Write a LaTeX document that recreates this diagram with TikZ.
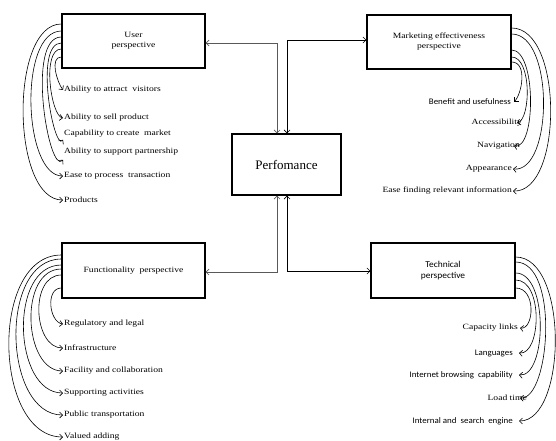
\documentclass[tikz,border=0pt]{standalone}
\usepackage{fontspec}
\setmainfont{Liberation Serif}
\newfontfamily\itemserif[FakeStretch=1.2]{Liberation Serif}
\newfontfamily\itemsans[FakeStretch=1.05]{Carlito}
\usetikzlibrary{arrows.meta,calc}
\begin{document}
\begin{tikzpicture}[x=1pt,y=-1pt,
  >={Straight Barb[length=3pt,width=6pt]},
  box/.style={draw,line width=1.3pt,inner sep=0pt,align=center,font=\itemserif\fontsize{8}{10}\selectfont},
  itm/.style={inner sep=1pt,font=\itemserif\fontsize{8}{10}\selectfont},
  itms/.style={inner sep=1pt,font=\itemsans\fontsize{8.5}{10}\selectfont},
  link/.style={<->,line width=0.6pt},
  cv/.style={->,line width=0.6pt}]
\useasboundingbox (0,0) rectangle (556,441);
% boxes
\node[box,minimum width=143pt,minimum height=54pt] (user) at (133.5,41) {User\\perspective};
\node[box,minimum width=144pt,minimum height=54pt] (mark) at (439,42) {Marketing effectiveness\\perspective};
\node[box,minimum width=109pt,minimum height=61pt,font=\fontsize{13}{15}\selectfont] (perf) at (286.5,164.5) {Perfomance};
\node[box,minimum width=143pt,minimum height=55pt] (func) at (133.5,270.5) {Functionality\ \ perspective};
\node[box,minimum width=144pt,minimum height=55pt,font=\itemsans\fontsize{9}{11}\selectfont] (tech) at (443,270.5) {Technical\\perspective};
% main connectors
\draw[link,gray!70!black] ([yshift=-2pt]user.east) -| ([xshift=-9.5pt]perf.north);
\draw[link] ([yshift=2pt]mark.west) -| ([xshift=0.5pt]perf.north);
\draw[link,gray!70!black] ([yshift=-1.5pt]func.east) -| ([xshift=-9.5pt]perf.south);
\draw[link] ([yshift=-0.5pt]tech.west) -| ([xshift=0.5pt]perf.south);
% user items
\node[itm,anchor=west] (u1) at (63,90) {Ability to attract\ \ visitors};
\node[itm,anchor=west] (u2) at (63,118) {Ability to sell product};
\node[itm,anchor=west] (u3) at (63,134) {Capability to create\ \ market};
\node[itm,anchor=west] (u4) at (63,152) {Ability to support partnership};
\node[itm,anchor=west] (u5) at (63,176) {Ease to process\ \ transaction};
\node[itm,anchor=west] (u6) at (63,200) {Products};
\draw[cv] ([yshift=17pt]user.west) .. controls +(-52,0) and +(-52,0) .. (u6.west);
\draw[cv] ([yshift=10pt]user.west) .. controls +(-43,0) and +(-40,0) .. (u5.west);
\draw[cv] ([yshift=4pt]user.west) .. controls +(-36,0) and +(-14,16) .. ([yshift=-3pt]u4.south west);
\draw[cv] ([yshift=-2pt]user.west) .. controls +(-28,0) and +(-9,12) .. ([yshift=-1pt]u3.south west);
\draw[cv] ([yshift=-8pt]user.west) .. controls +(-20,0) and +(-12,-2) .. (u2.west);
\draw[cv] ([yshift=-16pt]user.west) .. controls +(-12,0) and +(-6,-8) .. (u1.west);
% marketing items
\node[itms,anchor=east] (m1) at (512,102) {Benefit and usefulness};
\node[itm,anchor=east] (m2) at (523,123) {Accessibility};
\node[itm,anchor=east] (m3) at (521,146) {Navigation};
\node[itm,anchor=east] (m4) at (513,169) {Appearance};
\node[itm,anchor=east] (m5) at (513,191) {Ease finding relevant information};
\draw[cv] ([yshift=14pt]mark.east) .. controls +(52,0) and +(50,2) .. (m5.east);
\draw[cv] ([yshift=8pt]mark.east) .. controls +(43,0) and +(40,4) .. (m4.east);
\draw[cv] ([yshift=-8pt]mark.east) .. controls +(25,0) and +(22,4) .. ([xshift=-7pt]m3.east);
\draw[cv] ([yshift=-15pt]mark.east) .. controls +(20,0) and +(14,-4) .. ([xshift=-6pt]m2.east);
\draw[cv] ([yshift=-20pt]mark.east) .. controls +(16,0) and +(8,-8) .. ([xshift=2pt]m1.east);
% technical items
\node[itm,anchor=east] (t1) at (519,328) {Capacity links};
\node[itms,anchor=east] (t2) at (514,353) {Languages};
\node[itms,anchor=east] (t3) at (514,375) {Internet browsing\ \ capability};
\node[itm,anchor=east] (t4) at (528,398) {Load time};
\node[itms,anchor=east] (t5) at (514,421) {Internal and\ \ search\ \ engine};
\draw[cv] ([yshift=13.5pt]tech.east) .. controls +(53,0) and +(48,0) .. ([xshift=5pt]t5.east);
\draw[cv] ([yshift=8.5pt]tech.east) .. controls +(44,0) and +(30,2) .. ([xshift=-8pt]t4.east);
\draw[cv] ([yshift=-2.5pt]tech.east) .. controls +(33,0) and +(28,2) .. ([xshift=5pt]t3.east);
\draw[cv] ([yshift=-9.5pt]tech.east) .. controls +(28,0) and +(22,2) .. ([xshift=5pt]t2.east);
\draw[cv] ([yshift=-17.5pt]tech.east) .. controls +(21,0) and +(14,2) .. ([xshift=1pt]t1.east);
% functionality items
\node[itm,anchor=west] (f1) at (63,324) {Regulatory and legal};
\node[itm,anchor=west] (f2) at (63,348) {Infrastructure};
\node[itm,anchor=west] (f3) at (63,371) {Facility and collaboration};
\node[itm,anchor=west] (f4) at (63,393) {Supporting activities};
\node[itm,anchor=west] (f5) at (63,415) {Public transportation};
\node[itm,anchor=west] (f6) at (63,437) {Valued adding};
\draw[cv] ([yshift=15.5pt]func.west) .. controls +(-72,0) and +(-70,0) .. (f6.west);
\draw[cv] ([yshift=11.5pt]func.west) .. controls +(-63,0) and +(-60,0) .. (f5.west);
\draw[cv] ([yshift=5.5pt]func.west) .. controls +(-53,0) and +(-50,0) .. (f4.west);
\draw[cv] ([yshift=1.5pt]func.west) .. controls +(-43,0) and +(-40,0) .. (f3.west);
\draw[cv] ([yshift=-4.5pt]func.west) .. controls +(-32,0) and +(-30,0) .. (f2.west);
\draw[cv] ([yshift=-17.5pt]func.west) .. controls +(-16,0) and +(-14,-2) .. (f1.west);
\end{tikzpicture}
\end{document}
